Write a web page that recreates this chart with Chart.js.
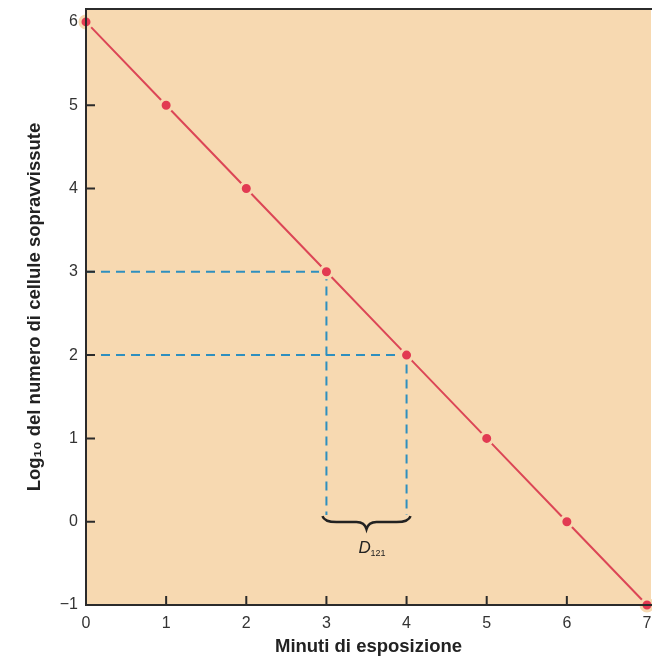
<!DOCTYPE html>
<html>
<head>
<meta charset="utf-8">
<script src="https://cdn.jsdelivr.net/npm/chart.js@4.4.1/dist/chart.umd.min.js"></script>
<style>
  html, body { margin: 0; padding: 0; background: #fff; overflow: hidden; }
  #wrap { width: 660px; height: 662px; }
</style>
</head>
<body>
<div id="wrap"><canvas id="chart"></canvas></div>
<script>
// data
let minutes = [0, 1, 2, 3, 4, 5, 6, 7];
let logSurvivors = [6, 5, 4, 3, 2, 1, 0, -1];
let xTickValues = [1, 2, 3, 4, 5, 6];
let yTickValues = [0, 1, 2, 3, 4, 5];
// D value guides: the two points read at 3 and 2 logs
let guideX = [3, 4];
let guideY = [3, 2];
let guideBottom = 0.08;

let peach = '#f7d9b1';
let red = '#dc4656';
let blue = '#2e8fbf';
let ink = '#333';

let points = minutes.map((m, i) => ({x: m, y: logSurvivors[i]}));
let guides = guideX.map((gx, i) => ({
    data: [{x: 0, y: guideY[i]}, {x: gx, y: guideY[i]}, {x: gx, y: guideBottom}],
    showLine: true,
    borderColor: blue,
    borderWidth: 2,
    borderDash: [9, 6],
    pointRadius: 0,
    order: 2
}));

// peach plot area, frame, inward ticks, brace
let decor = {
    id: 'decor',
    beforeDraw(chart) {
        let a = chart.chartArea;
        let c = chart.ctx;
        c.save();
        c.fillStyle = peach;
        c.fillRect(a.left, a.top, a.right - a.left, a.bottom - a.top);
        c.restore();
    },
    afterDraw(chart) {
        let a = chart.chartArea;
        let c = chart.ctx;
        let xs = chart.scales.x, ys = chart.scales.y;
        c.save();
        c.strokeStyle = '#2b2b2b';
        c.lineWidth = 2;
        c.beginPath();
        c.moveTo(a.right + 2, a.top);
        c.lineTo(a.left, a.top);
        c.lineTo(a.left, a.bottom);
        c.lineTo(a.right + 2, a.bottom);
        c.stroke();
        c.beginPath();
        xTickValues.forEach(v => {
            let px = xs.getPixelForValue(v);
            c.moveTo(px, a.bottom);
            c.lineTo(px, a.bottom - 9);
        });
        yTickValues.forEach(v => {
            let py = ys.getPixelForValue(v);
            c.moveTo(a.left, py);
            c.lineTo(a.left + 9, py);
        });
        c.stroke();

        // brace under the two guides
        let x1 = xs.getPixelForValue(guideX[0]);
        let x2 = xs.getPixelForValue(guideX[1]);
        let top = ys.getPixelForValue(guideBottom) + 1;
        let mid = (x1 + x2) / 2;
        c.strokeStyle = '#222';
        c.lineWidth = 2.5;
        c.beginPath();
        c.moveTo(x1 - 4, top);
        c.quadraticCurveTo(x1 - 2, top + 6, x1 + 10, top + 6);
        c.lineTo(mid - 10, top + 6);
        c.quadraticCurveTo(mid - 2, top + 6, mid, top + 13);
        c.quadraticCurveTo(mid + 2, top + 6, mid + 10, top + 6);
        c.lineTo(x2 - 10, top + 6);
        c.quadraticCurveTo(x2 + 2, top + 6, x2 + 4, top);
        c.stroke();

        c.fillStyle = '#222';
        c.textBaseline = 'alphabetic';
        c.font = 'italic 17px "Liberation Sans", Arial, sans-serif';
        c.fillText('D', mid - 8, top + 37);
        c.font = '9px "Liberation Sans", Arial, sans-serif';
        c.fillText('121', mid + 4, top + 40);
        c.restore();
    }
};

let ctx = document.getElementById('chart').getContext('2d');
let chart = new Chart(ctx, {
    type: 'scatter',
    data: {
        datasets: [{
            data: points,
            showLine: true,
            borderColor: red,
            borderWidth: 2,
            pointRadius: 6,
            pointBackgroundColor: '#e23a52',
            pointBorderColor: peach,
            pointBorderWidth: 3,
            clip: false,
            order: 1
        }].concat(guides)
    },
    options: {
        responsive: true,
        maintainAspectRatio: false,
        animation: false,
        layout: {padding: {top: 5, right: 0, left: 0, bottom: 0}},
        plugins: {legend: {display: false}, tooltip: {enabled: false}},
        scales: {
            x: {
                type: 'linear',
                min: 0,
                max: 7.05,
                grid: {display: false, drawTicks: false},
                border: {display: false},
                afterFit(s) { s.height = 57; s.paddingLeft = 0; s.paddingRight = 0; },
                afterBuildTicks(s) { s.ticks = minutes.map(v => ({value: v})); },
                ticks: {
                    padding: 9,
                    color: ink,
                    font: {family: '"Liberation Sans", Arial, sans-serif', size: 16}
                },
                title: {
                    display: true,
                    text: 'Minuti di esposizione',
                    color: '#222',
                    padding: {top: 3},
                    font: {family: '"Liberation Sans", Arial, sans-serif', size: 18.5, weight: 'bold'}
                }
            },
            y: {
                type: 'linear',
                min: -1,
                max: 6.155,
                grid: {display: false, drawTicks: false},
                border: {display: false},
                afterFit(s) { s.width = 86; s.paddingTop = 0; s.paddingBottom = 0; },
                afterBuildTicks(s) { s.ticks = logSurvivors.slice().reverse().map(v => ({value: v})); },
                ticks: {
                    padding: 8,
                    color: ink,
                    callback: v => String(v).replace('-', '\u2212'),
                    font: {family: '"Liberation Sans", Arial, sans-serif', size: 16}
                },
                title: {
                    display: true,
                    text: 'Log\u2081\u2080 del numero di cellule sopravvissute',
                    color: '#222',
                    padding: {top: 24},
                    font: {family: '"Liberation Sans", Arial, sans-serif', size: 18.5, weight: 'bold'}
                }
            }
        }
    },
    plugins: [decor]
});
</script>
</body>
</html>
